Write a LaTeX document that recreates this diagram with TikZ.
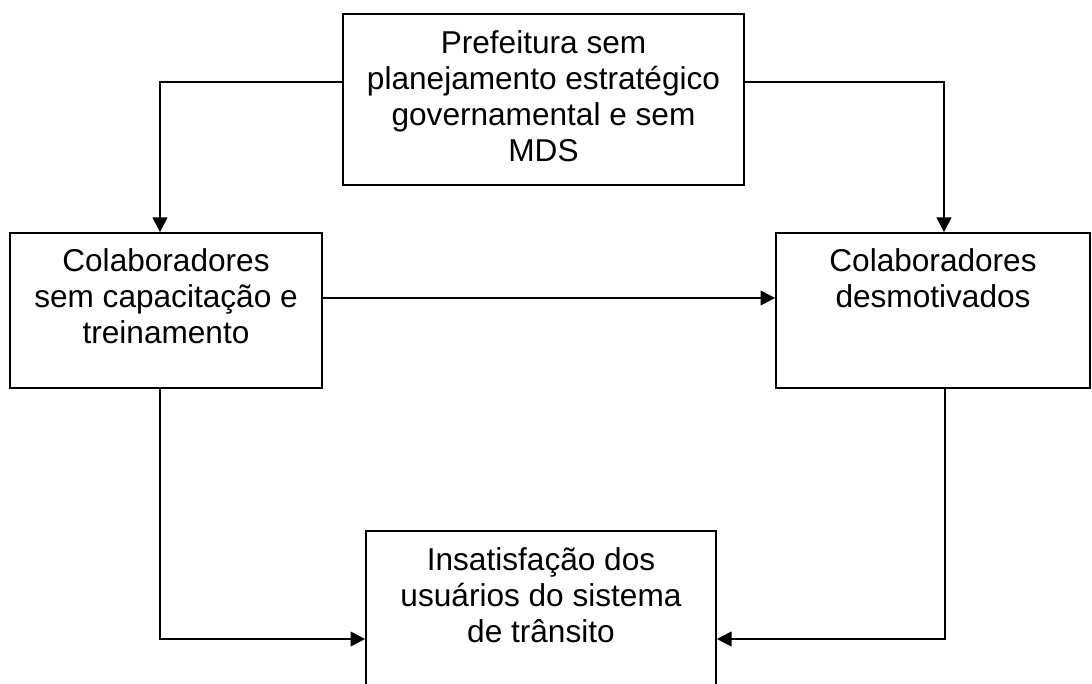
\documentclass[tikz,border=0pt]{standalone}
\usepackage{fontspec}
\setmainfont{Liberation Sans}
\usetikzlibrary{arrows.meta}
\tikzset{
  box/.style={draw=black, line width=1.25pt, rectangle, inner sep=0pt},
  txt/.style={align=center, inner sep=0pt, anchor=north, font=\fontsize{23.7pt}{27pt}\selectfont},
  arr/.style={line width=1.5pt, -{Triangle[length=11pt,width=11pt]}}
}
\begin{document}
\begin{tikzpicture}[x=0.75pt,y=-0.75pt]
\useasboundingbox (0,0) rectangle (1092,684);
\clip (0,0) rectangle (1092,684);
\fill[white] (0,0) rectangle (1092,684);
% boxes (pixel coordinates)
\node[box, minimum width=401*0.75pt, minimum height=171*0.75pt] (top) at (543.5,99.5) {};
\node[box, minimum width=312*0.75pt, minimum height=155*0.75pt] (left) at (166,310.5) {};
\node[box, minimum width=314*0.75pt, minimum height=155*0.75pt] (right) at (933,310.5) {};
\node[box, minimum width=350*0.75pt, minimum height=160*0.75pt] (bottom) at (541,611) {};
% texts
\node[txt] (toptxt) at ([yshift=-17*0.75pt]top.north) {Prefeitura sem\\planejamento estratégico\\governamental e sem\\MDS};
\node[txt] (lefttxt) at ([yshift=-16*0.75pt]left.north) {Colaboradores\\sem capacitação e\\treinamento};
\node[txt] (righttxt) at ([yshift=-16*0.75pt]right.north) {Colaboradores\\desmotivados};
\node[txt] (bottxt) at ([yshift=-17*0.75pt]bottom.north) {Insatisfação dos\\usuários do sistema\\de trânsito};
% bend points
\coordinate (c1) at (160,82);
\coordinate (c2) at (944,82);
\coordinate (c3) at (0,298);
\coordinate (c4) at (160,639);
\coordinate (c5) at (945,639);
% connectors
\draw[arr] (top.west |- c1) -- (c1) -- (c1 |- left.north);
\draw[arr] (top.east |- c2) -- (c2) -- (c2 |- right.north);
\draw[arr] (left.east |- c3) -- (right.west |- c3);
\draw[arr] (c4 |- left.south) -- (c4) -- (bottom.west |- c4);
\draw[arr] (c5 |- right.south) -- (c5) -- (bottom.east |- c5);
\end{tikzpicture}
\end{document}
